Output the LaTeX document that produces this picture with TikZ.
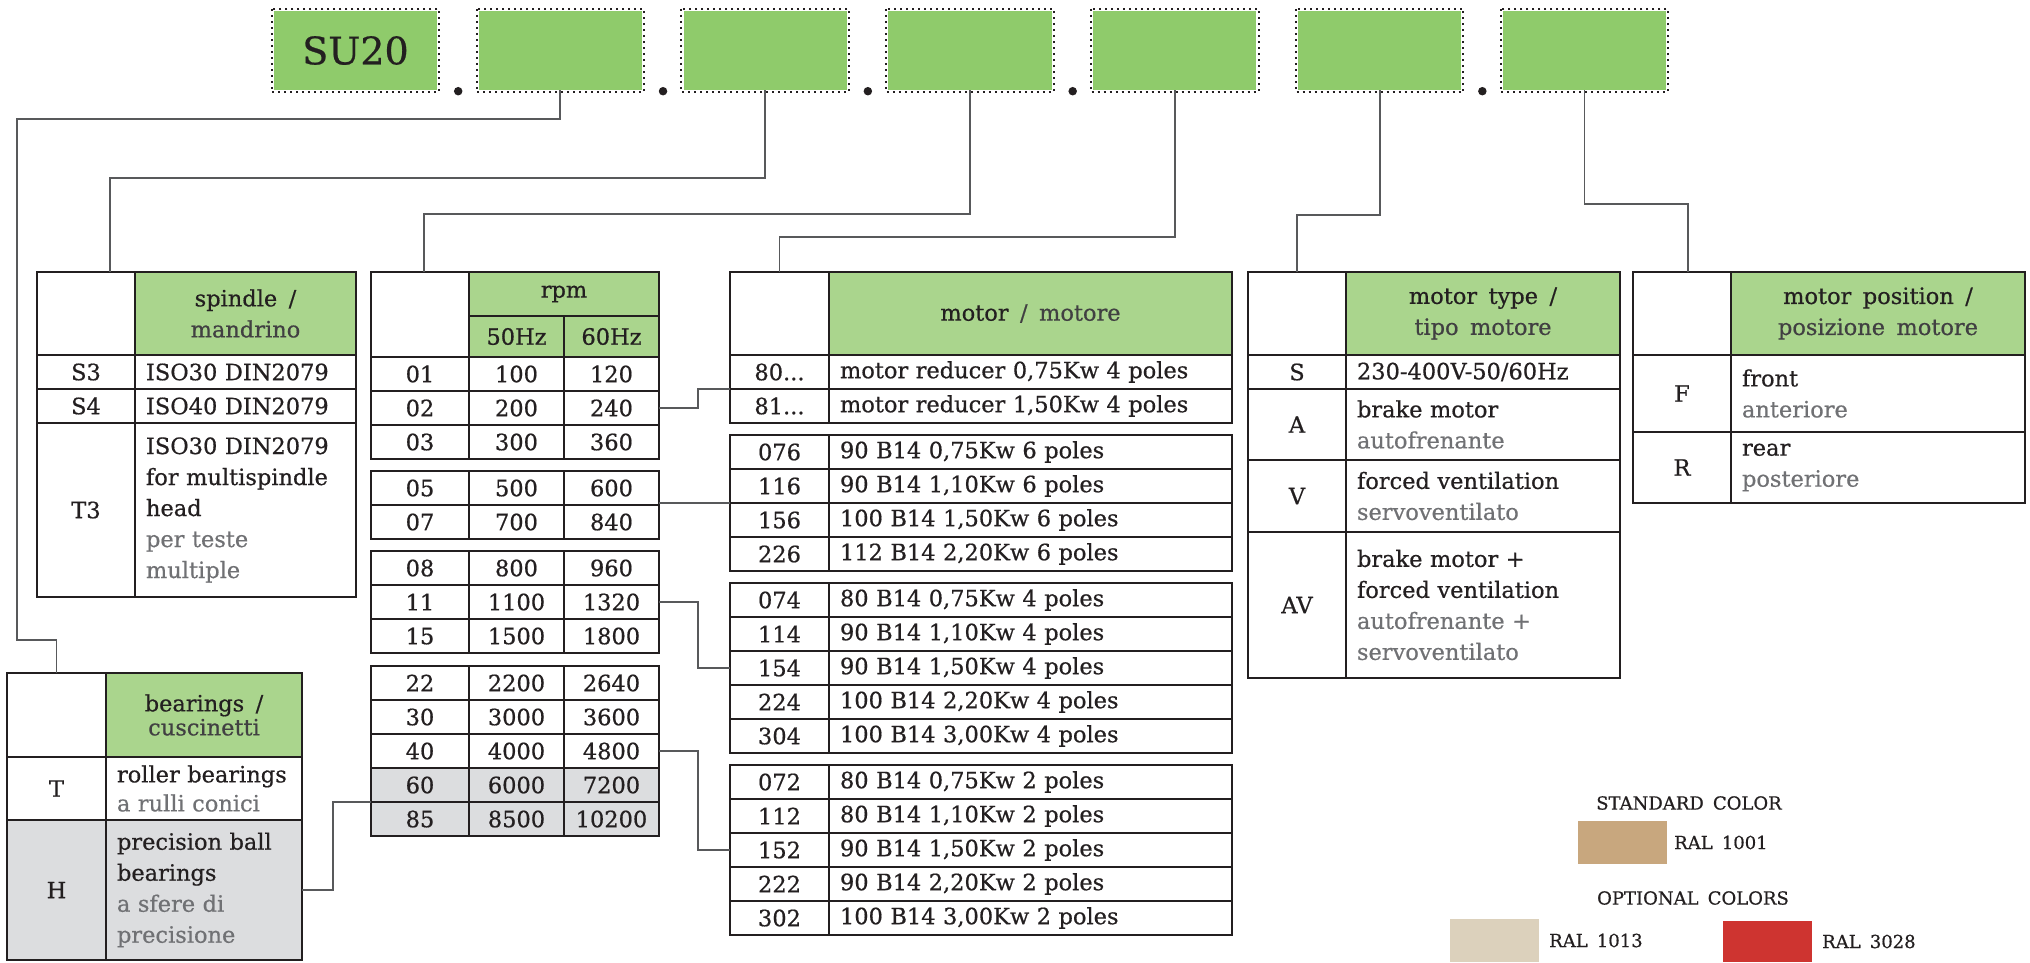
\documentclass[tikz,border=0pt]{standalone}
\usepackage{fontspec}
\setmainfont[WordSpace=1.6, FakeBold=0.6]{DejaVu Serif}
\usetikzlibrary{calc}

\definecolor{topgreen}{RGB}{143,203,107}
\definecolor{hdrgreen}{RGB}{170,213,141}
\definecolor{rowgray}{RGB}{220,221,223}
\definecolor{linec}{RGB}{35,31,32}
\definecolor{conngray}{RGB}{88,89,91}
\definecolor{itgray}{RGB}{112,113,116}
\definecolor{hdgray}{RGB}{65,64,66}
\definecolor{ral1001}{RGB}{200,167,126}
\definecolor{ral1013}{RGB}{220,209,188}
\definecolor{ral3028}{RGB}{206,52,48}

\newcommand{\grtxt}[1]{\textcolor{itgray}{#1}}
\newcommand{\hdtxt}[1]{\textcolor{hdgray}{#1}}

\tikzset{
  cell/.style={draw=linec, line width=2.2pt, inner sep=0pt, outer sep=0pt,
    anchor=north west, align=center, text=linec},
  desc/.style={cell, align=left, inner xsep=11pt, text width=#1},
  hdr/.style={cell, fill=hdrgreen},
  conn/.style={draw=conngray, line width=1.8pt},
  codebox/.style={fill=topgreen, minimum width=163, minimum height=79, inner sep=0pt, text=linec},
  dotline/.style={draw=linec, line width=2pt, dash pattern=on 2pt off 4pt},
  dotmark/.style={circle, fill=linec, inner sep=0pt, minimum size=8.5},
  swatch/.style={anchor=north west, inner sep=0pt, outer sep=0pt},
  legend/.style={inner sep=0pt, text=linec, font=\fontsize{18}{18}\selectfont}
}

\begin{document}
\begin{tikzpicture}[x=1pt, y=-1pt, font=\fontsize{22.5}{31}\selectfont]
  \useasboundingbox (0,0) rectangle (2030,962);

  % code boxes
  \node[codebox, font=\fontsize{38}{38}\selectfont] (b1) at (355.5,50.5) {SU20};
  \foreach \i in {2,...,7}
    \node[codebox] (b\i) at ({355.5+(\i-1)*204.83},50.5) {};
  \foreach \i in {1,...,7}
    \draw[dotline] ([xshift=-2pt,yshift=2pt]b\i.north west) rectangle ([xshift=2pt,yshift=-2pt]b\i.south east);
  \foreach \i in {1,2,3,4,6}
    \node[dotmark] (dot\i) at ([xshift=21pt,yshift=-1pt]b\i.south east) {};

  % spindle
  \node[cell, minimum width=98, minimum height=83] (spc0) at (37,272) {};
  \node[hdr, minimum width=221, minimum height=83] (sph) at (135,272) {spindle /\\\hdtxt{mandrino}};
  \foreach \y/\hh/\cd/\txt [count=\i] in {355/34/S3/{ISO30 DIN2079}, 389/34/S4/{ISO40 DIN2079},
      423/174/T3/{ISO30 DIN2079\\for multispindle\\head\\\grtxt{per teste}\\\grtxt{multiple}}} {
    \node[cell, minimum width=98, minimum height=\hh] (spc\i) at (37,\y) {\cd};
    \node[desc=199, minimum height=\hh] (spd\i) at (135,\y) {\txt};
  }

  % bearings
  \node[cell, minimum width=99, minimum height=84] (brc0) at (7,673) {};
  \node[hdr, minimum width=196, minimum height=84, font=\fontsize{22.5}{24}\selectfont] (brh) at (106,673) {bearings /\\\hdtxt{cuscinetti}};
  \node[cell, minimum width=99, minimum height=63] (brc1) at (7,757) {T};
  \node[desc=174, minimum height=63, font=\fontsize{22.5}{29}\selectfont] (brd1) at (106,757) {roller bearings\\\grtxt{a rulli conici}};
  \node[cell, fill=rowgray, minimum width=99, minimum height=140] (brc2) at (7,820) {H};
  \node[desc=174, fill=rowgray, minimum height=140] (brd2) at (106,820) {precision ball\\bearings\\\grtxt{a sfere di}\\\grtxt{precisione}};

  % rpm
  \node[cell, minimum width=98, minimum height=85] (rpc0) at (371,272) {};
  \node[hdr, minimum width=190, minimum height=44] (rph) at (469,272) {rpm};
  \node[hdr, minimum width=95, minimum height=41] (rpa0) at (469,316) {50Hz};
  \node[hdr, minimum width=95, minimum height=41] (rpb0) at (564,316) {60Hz};
  \foreach \y/\cd/\rA/\rB in {357/01/100/120, 391/02/200/240, 425/03/300/360,
      471/05/500/600, 505/07/700/840, 551/08/800/960, 585/11/1100/1320, 619/15/1500/1800,
      666/22/2200/2640, 700/30/3000/3600, 734/40/4000/4800, 768/60/6000/7200, 802/85/8500/10200} {
    \ifnum\cd>50 \def\fc{rowgray}\else\def\fc{none}\fi
    \node[cell, fill=\fc, minimum width=98, minimum height=34] (rpc\cd) at (371,\y) {\cd};
    \node[cell, fill=\fc, minimum width=95, minimum height=34] (rpa\cd) at (469,\y) {\rA};
    \node[cell, fill=\fc, minimum width=95, minimum height=34] (rpb\cd) at (564,\y) {\rB};
  }

  % motor
  \node[cell, minimum width=99, minimum height=83] (moc0) at (730,272) {};
  \node[hdr, minimum width=403, minimum height=83] (moh) at (829,272) {motor \hdtxt{/ motore}};
  \node[cell, minimum width=99, minimum height=34] (moc80) at (730,355) {80...};
  \node[desc=381, minimum height=34] (mod80) at (829,355) {motor reducer 0,75Kw 4 poles};
  \node[cell, minimum width=99, minimum height=34] (moc81) at (730,389) {81...};
  \node[desc=381, minimum height=34] (mod81) at (829,389) {motor reducer 1,50Kw 4 poles};
  \foreach \y/\cd/\txt in {435/076/{90 B14 0,75Kw 6 poles}, 469/116/{90 B14 1,10Kw 6 poles},
      503/156/{100 B14 1,50Kw 6 poles}, 537/226/{112 B14 2,20Kw 6 poles},
      583/074/{80 B14 0,75Kw 4 poles}, 617/114/{90 B14 1,10Kw 4 poles},
      651/154/{90 B14 1,50Kw 4 poles}, 685/224/{100 B14 2,20Kw 4 poles},
      719/304/{100 B14 3,00Kw 4 poles},
      765/072/{80 B14 0,75Kw 2 poles}, 799/112/{80 B14 1,10Kw 2 poles},
      833/152/{90 B14 1,50Kw 2 poles}, 867/222/{90 B14 2,20Kw 2 poles},
      901/302/{100 B14 3,00Kw 2 poles}} {
    \node[cell, minimum width=99, minimum height=34] (moc\cd) at (730,\y) {\cd};
    \node[desc=381, minimum height=34] (mod\cd) at (829,\y) {\txt};
  }

  % motor type
  \node[cell, minimum width=98, minimum height=83] (mtc0) at (1248,272) {};
  \node[hdr, minimum width=274, minimum height=83] (mth) at (1346,272) {motor type /\\\hdtxt{tipo motore}};
  \node[cell, minimum width=98, minimum height=34] (mtc1) at (1248,355) {S};
  \node[desc=252, minimum height=34] (mtd1) at (1346,355) {230-400V-50/60Hz};
  \node[cell, minimum width=98, minimum height=71] (mtc2) at (1248,389) {A};
  \node[desc=252, minimum height=71] (mtd2) at (1346,389) {brake motor\\\grtxt{autofrenante}};
  \node[cell, minimum width=98, minimum height=72] (mtc3) at (1248,460) {V};
  \node[desc=252, minimum height=72] (mtd3) at (1346,460) {forced ventilation\\\grtxt{servoventilato}};
  \node[cell, minimum width=98, minimum height=146] (mtc4) at (1248,532) {AV};
  \node[desc=252, minimum height=146] (mtd4) at (1346,532) {brake motor +\\forced ventilation\\\grtxt{autofrenante +}\\\grtxt{servoventilato}};

  % motor position
  \node[cell, minimum width=98, minimum height=83] (mpc0) at (1633,272) {};
  \node[hdr, minimum width=294, minimum height=83] (mph) at (1731,272) {motor position /\\\hdtxt{posizione motore}};
  \node[cell, minimum width=98, minimum height=77] (mpc1) at (1633,355) {F};
  \node[desc=272, minimum height=77] (mpd1) at (1731,355) {front\\\grtxt{anteriore}};
  \node[cell, minimum width=98, minimum height=71] (mpc2) at (1633,432) {R};
  \node[desc=272, minimum height=71] (mpd2) at (1731,432) {rear\\\grtxt{posteriore}};

  % connectors
  \coordinate (bendbr) at (17,640);
  \draw[conn] (b2.south) -- ++(0,29) -| (bendbr) -| (brc0.north);
  \draw[conn] (b3.south) -- ++(0,88) -| ([xshift=24pt]spc0.north);
  \draw[conn] (b4.south) -- ++(0,124) -| ([xshift=4pt]rpc0.north);
  \draw[conn] (b5.south) -- ++(0,147) -| (moc0.north);
  \draw[conn] (b6.south) -- ++(0,125) -| (mtc0.north);
  \draw[conn] (b7.south) -- ++(0,114) -| ([xshift=6pt]mpc0.north);
  \draw[conn] (rpb02.east) -- ++(39,0) |- (moc80.south west);
  \draw[conn] (moc116.south west -| rpb05.east) -- (moc116.south west);
  \draw[conn] (rpb11.east) -- ++(39,0) |- (moc154.west);
  \draw[conn] (rpb40.east) -- ++(39,0) |- (moc152.west);
  \draw[conn] (rpc60.south west) -- ++(-38,0) |- (brd2.east);

  % colours
  \node[legend] (stdlbl) at (1689,803) {STANDARD COLOR};
  \node[swatch, fill=ral1001, minimum width=89, minimum height=43] (sw1001) at (1578,821) {};
  \node[legend, anchor=west] (l1001) at ([xshift=7pt]sw1001.east) {RAL 1001};
  \node[legend] (optlbl) at (1693,898) {OPTIONAL COLORS};
  \node[swatch, fill=ral1013, minimum width=89, minimum height=43] (sw1013) at (1450,919) {};
  \node[legend, anchor=west] (l1013) at ([xshift=10pt]sw1013.east) {RAL 1013};
  \node[swatch, fill=ral3028, minimum width=89, minimum height=41] (sw3028) at (1723,921) {};
  \node[legend, anchor=west] (l3028) at ([xshift=10pt]sw3028.east) {RAL 3028};
\end{tikzpicture}
\end{document}
